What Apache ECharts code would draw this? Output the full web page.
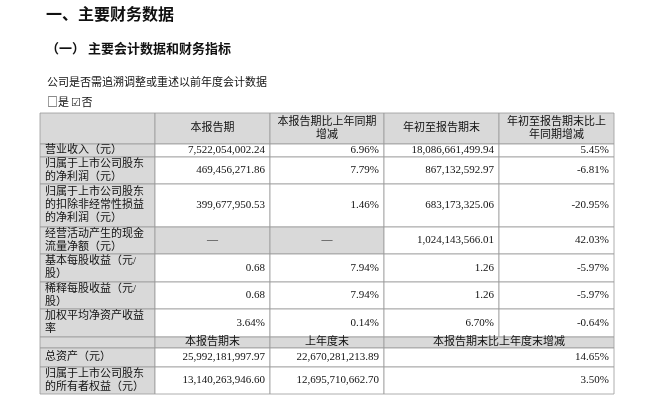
<!DOCTYPE html>
<html><head><meta charset="utf-8">
<script src="https://cdn.jsdelivr.net/npm/echarts@6/dist/echarts.min.js"></script>
<style>html,body{margin:0;background:#fff}#c{width:650px;height:416px}</style>
</head><body><div id="c"></div>
<script>
const headers1 = ['', '本报告期', '本报告期比上年同期\n增减', '年初至报告期末', '年初至报告期末比上\n年同期增减'];
const rowLabels1 = ['营业收入（元）', '归属于上市公司股东\n的净利润（元）', '归属于上市公司股东\n的扣除非经常性损益\n的净利润（元）', '经营活动产生的现金\n流量净额（元）', '基本每股收益（元/\n股）', '稀释每股收益（元/\n股）', '加权平均净资产收益\n率'];
const curPeriod = ['7,522,054,002.24', '469,456,271.86', '399,677,950.53', '—', '0.68', '0.68', '3.64%'];
const curChange = ['6.96%', '7.79%', '1.46%', '—', '7.94%', '7.94%', '0.14%'];
const ytd = ['18,086,661,499.94', '867,132,592.97', '683,173,325.06', '1,024,143,566.01', '1.26', '1.26', '6.70%'];
const ytdChange = ['5.45%', '-6.81%', '-20.95%', '42.03%', '-5.97%', '-5.97%', '-0.64%'];
const headers2 = ['', '本报告期末', '上年度末', '本报告期末比上年度末增减'];
const rowLabels2 = ['总资产（元）', '归属于上市公司股东\n的所有者权益（元）'];
const periodEnd = ['25,992,181,997.97', '13,140,263,946.60'];
const lastYearEnd = ['22,670,281,213.89', '12,695,710,662.70'];
const endChange = ['14.65%', '3.50%'];

const colX = [40, 155, 270, 384, 499, 614];
const rowY = [113, 144, 157, 184, 227, 254, 282, 309, 337, 348, 367, 394];
const GRAY = '#d9d9d9', LINE = '#9a9a9a';
const FONT = '"Liberation Serif","Noto Sans CJK SC",serif';
const els = [];
function cell(x0, x1, y0, y1, text, align, fill, fs) {
  els.push({type: 'rect', shape: {x: x0, y: y0, width: x1 - x0, height: y1 - y0},
    style: {fill: fill || '#fff', stroke: LINE, lineWidth: 0.8}});
  if (text) {
    const tx = align === 'left' ? x0 + 5 : align === 'right' ? x1 - 5 : (x0 + x1) / 2;
    els.push({type: 'text', x: tx, y: (y0 + y1) / 2, style: {text: text, fill: '#111',
      font: (fs || 11) + 'px ' + FONT, align: align, verticalAlign: 'middle', lineHeight: 13}});
  }
}
// header 1
for (let c = 0; c < 5; c++) cell(colX[c], colX[c + 1], rowY[0], rowY[1], headers1[c], 'center', GRAY);
rowLabels1.forEach((lab, i) => {
  const y0 = rowY[i + 1], y1 = rowY[i + 2];
  const dash = curPeriod[i] === '—';
  cell(colX[0], colX[1], y0, y1, lab, 'left', GRAY);
  cell(colX[1], colX[2], y0, y1, curPeriod[i], dash ? 'center' : 'right', dash ? GRAY : null);
  cell(colX[2], colX[3], y0, y1, curChange[i], dash ? 'center' : 'right', dash ? GRAY : null);
  cell(colX[3], colX[4], y0, y1, ytd[i], 'right');
  cell(colX[4], colX[5], y0, y1, ytdChange[i], 'right');
});
// header 2
cell(colX[0], colX[1], rowY[8], rowY[9], headers2[0], 'center', GRAY);
cell(colX[1], colX[2], rowY[8], rowY[9], headers2[1], 'center', GRAY);
cell(colX[2], colX[3], rowY[8], rowY[9], headers2[2], 'center', GRAY);
cell(colX[3], colX[5], rowY[8], rowY[9], headers2[3], 'center', GRAY);
rowLabels2.forEach((lab, i) => {
  const y0 = rowY[i + 9], y1 = rowY[i + 10];
  cell(colX[0], colX[1], y0, y1, lab, 'left', GRAY);
  cell(colX[1], colX[2], y0, y1, periodEnd[i], 'right');
  cell(colX[2], colX[3], y0, y1, lastYearEnd[i], 'right');
  cell(colX[3], colX[5], y0, y1, endChange[i], 'right');
});
// titles
const CJK = '"Noto Sans CJK SC",sans-serif';
els.push({type:'text', x:46, y:14, style:{text:'一、主要财务数据', font:'bold 16px '+CJK, fill:'#111', verticalAlign:'middle'}});
els.push({type:'text', x:46, y:48, style:{text:'（一） 主要会计数据和财务指标', font:'bold 13px '+CJK, fill:'#111', verticalAlign:'middle'}});
els.push({type:'text', x:47, y:82, style:{text:'公司是否需追溯调整或重述以前年度会计数据', font:'11px '+CJK, fill:'#111', verticalAlign:'middle'}});
els.push({type:'text', x:47, y:102, style:{text:'□是 ☑否', font:'11px '+CJK, fill:'#111', verticalAlign:'middle'}});

const chart = echarts.init(document.getElementById('c'));
chart.setOption({animation: false, graphic: {elements: els}});
</script></body></html>
